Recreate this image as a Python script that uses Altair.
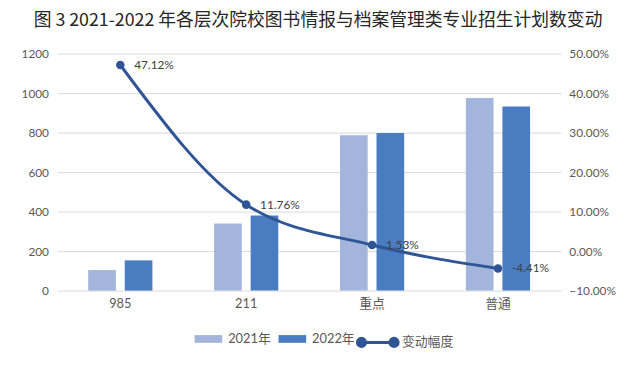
import altair as alt
import pandas as pd

categories = ["985", "211", "重点", "普通"]
series_names = ["2021年", "2022年"]
plan_2021 = [104, 340, 786, 975]
plan_2022 = [153, 380, 798, 932]
change_pct = [0.4712, 0.1176, 0.0153, -0.0441]
change_labels = ["47.12%", "11.76%", "1.53%", "-4.41%"]
line_name = "变动幅度"
left_ticks = [0, 200, 400, 600, 800, 1000, 1200]
right_ticks = [-0.1, 0.0, 0.1, 0.2, 0.3, 0.4, 0.5]
title_text = "图 3 2021-2022 年各层次院校图书情报与档案管理类专业招生计划数变动"

bar_colors = ["#A3B5DA", "#4A7CC1"]
line_color = "#2F5597"
FONT = "Lato, Noto Sans CJK SC"

bars_df = pd.DataFrame({
    "category": categories * 2,
    "series": [series_names[0]] * len(categories) + [series_names[1]] * len(categories),
    "value": plan_2021 + plan_2022,
})
line_df = pd.DataFrame({
    "category": categories,
    "pct": change_pct,
    "label": change_labels,
    "name": [line_name] * len(categories),
})

RECT_PATH = "M-1,-0.28L1,-0.28L1,0.28L-1,0.28Z"
LINE_PATH = ("M-0.8,0L0.8,0"
             "M-1,0a0.2,0.2 0 1,0 0.4,0a0.2,0.2 0 1,0 -0.4,0"
             "M0.6,0a0.2,0.2 0 1,0 0.4,0a0.2,0.2 0 1,0 -0.4,0")

x_enc = alt.X(
    "category:N", sort=categories,
    scale=alt.Scale(paddingInner=0.49, paddingOuter=0.245),
    axis=alt.Axis(title=None, labelAngle=0, ticks=False, domain=False,
                  labelPadding=7, labelFontSize=13, labelColor="#595959",
                  labelFont=FONT),
)

bars = alt.Chart(bars_df).mark_bar().encode(
    x=x_enc,
    xOffset=alt.XOffset("series:N", sort=series_names,
                        scale=alt.Scale(paddingInner=0.243, paddingOuter=0)),
    y=alt.Y("value:Q", scale=alt.Scale(domain=[0, 1200]),
            axis=alt.Axis(orient="left", values=left_ticks, title=None,
                          format="d", labelOverlap=False,
                          grid=True, gridColor="#D9D9D9", domain=False,
                          ticks=False, labelPadding=9, labelFontSize=12,
                          labelColor="#595959", labelFont=FONT)),
    color=alt.Color("series:N", sort=series_names,
                    scale=alt.Scale(domain=series_names, range=bar_colors),
                    legend=alt.Legend(title=None, orient="none",
                                      direction="horizontal",
                                      legendX=138, legendY=274,
                                      symbolType=RECT_PATH, symbolSize=784,
                                      labelFontSize=13, labelColor="#595959",
                                      labelFont=FONT, columnPadding=6,
                                      labelOffset=5)),
)


def y_right():
    return alt.Y("pct:Q", scale=alt.Scale(domain=[-0.1, 0.5]),
                 axis=alt.Axis(orient="right", values=right_ticks, format=".2%",
                               labelOverlap=False, labelBound=False,
                               title=None, grid=False, domain=False, ticks=False,
                               labelPadding=8, labelFontSize=12,
                               labelColor="#595959", labelFont=FONT))


line = alt.Chart(line_df).mark_line(strokeWidth=3, interpolate="monotone").encode(
    x=alt.X("category:N", sort=categories),
    y=y_right(),
    stroke=alt.Stroke("name:N",
                      scale=alt.Scale(domain=[line_name], range=[line_color]),
                      legend=alt.Legend(title=None, orient="none",
                                        direction="horizontal",
                                        legendX=302, legendY=270,
                                        symbolType=LINE_PATH, symbolSize=1700,
                                        symbolStrokeWidth=3,
                                        symbolFillColor=line_color,
                                        labelFontSize=13, labelColor="#595959",
                                        labelFont=FONT, labelOffset=2)),
)

points = alt.Chart(line_df).mark_point(filled=True, size=75, opacity=1,
                                       color=line_color).encode(
    x=alt.X("category:N", sort=categories),
    y=y_right(),
)

labels = alt.Chart(line_df).mark_text(align="left", baseline="middle", dx=14,
                                      fontSize=12, color="#404040",
                                      font=FONT).encode(
    x=alt.X("category:N", sort=categories),
    y=y_right(),
    text="label:N",
)

right_layer = alt.layer(line, points, labels)

chart = alt.layer(bars, right_layer).resolve_scale(
    y="independent"
).properties(
    width=510,
    height=240,
    title=alt.TitleParams(title_text, fontSize=18, font="Noto Sans CJK SC",
                          color="#262626", anchor="middle", fontWeight="normal",
                          offset=18, dx=9, limit=620),
    autosize=alt.AutoSizeParams(type="none"),
    padding={"left": 50, "top": 44, "right": 72, "bottom": 60},
).configure_view(
    stroke=None
)

chart.save("out.html", embed_options={"renderer": "svg", "actions": False})
